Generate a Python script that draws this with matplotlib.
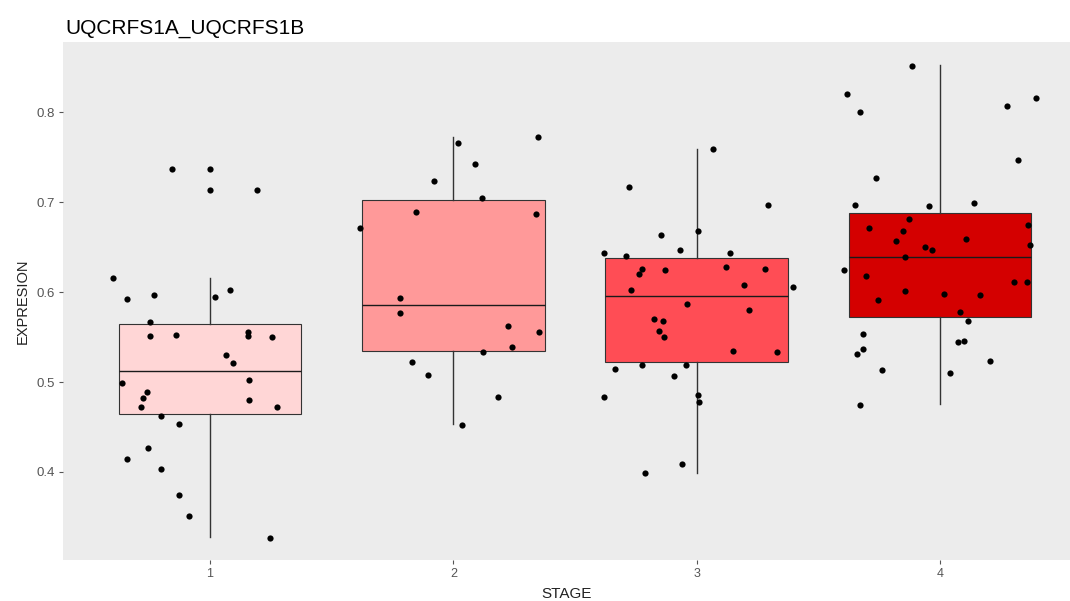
#!/usr/bin/env python3
import matplotlib
matplotlib.use("Agg")
import matplotlib.pyplot as plt

# expression per stage, jittered x positions kept as read from the run
stages = [1, 2, 3, 4]
stage_labels = ["1", "2", "3", "4"]
box_colors = ["#FFD6D6", "#FF9999", "#FF4D55", "#D40000"]

# box summary per stage
q1 = [0.4641, 0.5344, 0.5219, 0.5722]
median = [0.5119, 0.5852, 0.5952, 0.6385]
q3 = [0.5644, 0.7019, 0.6374, 0.6878]
whis_lo = [0.3281, 0.4533, 0.3993, 0.4752]
whis_hi = [0.6160, 0.7726, 0.7596, 0.8522]

stage1_x = [0.843, 1.000, 1.000, 1.192, 0.603, 0.658, 0.771, 1.021, 1.082, 0.755,
            0.755, 0.860, 1.155, 1.155, 1.254, 1.066, 1.093, 0.640, 1.160, 0.740,
            0.723, 1.160, 0.718, 1.274, 0.800, 0.874, 0.744, 0.658, 0.800, 0.874,
            0.915, 1.248]
stage1_y = [0.7367, 0.7367, 0.7140, 0.7140, 0.6160, 0.5920, 0.5970, 0.5944, 0.6026, 0.5663,
            0.5511, 0.5526, 0.5560, 0.5511, 0.5496, 0.5296, 0.5211, 0.4985, 0.5019, 0.4885,
            0.4822, 0.4800, 0.4719, 0.4719, 0.4619, 0.4533, 0.4263, 0.4141, 0.4030, 0.3748,
            0.3515, 0.3267]

stage2_x = [2.021, 2.346, 2.090, 1.921, 2.116, 1.847, 2.340, 1.618, 1.779, 1.779,
            2.226, 2.351, 2.241, 2.122, 1.831, 1.894, 2.185, 2.034]
stage2_y = [0.7659, 0.7719, 0.7419, 0.7237, 0.7044, 0.6889, 0.6867, 0.6711, 0.5930, 0.5763,
            0.5619, 0.5560, 0.5389, 0.5330, 0.5222, 0.5074, 0.4837, 0.4519]

stage3_x = [3.069, 2.721, 3.292, 2.855, 3.005, 2.933, 2.621, 2.709, 3.136, 2.777,
            2.763, 2.870, 3.119, 3.282, 3.193, 3.396, 2.732, 2.960, 3.215, 2.823,
            2.862, 2.845, 2.867, 3.148, 3.330, 2.663, 2.777, 2.955, 2.908, 2.621,
            3.005, 3.011, 2.940, 2.789]
stage3_y = [0.7596, 0.7167, 0.6974, 0.6637, 0.6674, 0.6470, 0.6433, 0.6407, 0.6433, 0.6259,
            0.6196, 0.6244, 0.6278, 0.6259, 0.6074, 0.6052, 0.6022, 0.5870, 0.5796, 0.5700,
            0.5678, 0.5570, 0.5496, 0.5344, 0.5330, 0.5148, 0.5186, 0.5186, 0.5063, 0.4837,
            0.4852, 0.4774, 0.4085, 0.3985]

stage4_x = [3.886, 3.617, 3.671, 4.275, 4.395, 4.322, 3.737, 3.652, 3.954, 4.140,
            3.871, 3.709, 3.848, 4.362, 3.819, 4.107, 3.938, 3.968, 4.369, 3.857,
            3.604, 3.695, 4.303, 4.359, 3.856, 4.018, 4.166, 3.745, 4.083, 4.115,
            3.682, 4.073, 4.099, 3.684, 3.658, 4.207, 3.760, 4.042, 3.672]
stage4_y = [0.8511, 0.8208, 0.8004, 0.8067, 0.8163, 0.7467, 0.7274, 0.6963, 0.6952, 0.6996,
            0.6808, 0.6711, 0.6681, 0.6748, 0.6563, 0.6589, 0.6496, 0.6470, 0.6519, 0.6385,
            0.6241, 0.6181, 0.6111, 0.6111, 0.6015, 0.5974, 0.5967, 0.5907, 0.5774, 0.5678,
            0.5533, 0.5448, 0.5459, 0.5367, 0.5315, 0.5230, 0.5137, 0.5104, 0.4741]


def main():
    plt.rcParams["font.family"] = ["Liberation Sans", "DejaVu Sans"]
    fig = plt.figure(figsize=(10.7, 6.01), dpi=100)
    ax = fig.add_axes([0.0589, 0.068, 0.9411, 0.862])
    ax.set_facecolor("#ECECEC")

    stats = []
    for i in range(len(stages)):
        stats.append({"med": median[i], "q1": q1[i], "q3": q3[i],
                      "whislo": whis_lo[i], "whishi": whis_hi[i], "fliers": []})
    bp = ax.bxp(stats, positions=stages, widths=0.75, showcaps=False,
                showfliers=False, patch_artist=True,
                boxprops=dict(edgecolor="#333333", linewidth=0.8),
                medianprops=dict(color="#1a1a1a", linewidth=1.0),
                whiskerprops=dict(color="#333333", linewidth=1.0))
    for patch, c in zip(bp["boxes"], box_colors):
        patch.set_facecolor(c)

    xs = stage1_x + stage2_x + stage3_x + stage4_x
    ys = stage1_y + stage2_y + stage3_y + stage4_y
    ax.scatter(xs, ys, s=20, color="black", zorder=5, linewidths=0)

    ax.set_xlim(0.396, 4.534)
    ax.set_ylim(0.302, 0.878)
    ax.set_xticks(stages)
    ax.set_xticklabels(stage_labels)
    ax.set_yticks([0.4, 0.5, 0.6, 0.7, 0.8])
    ax.set_yticklabels(["0.4", "0.5", "0.6", "0.7", "0.8"])
    ax.tick_params(colors="#555555", labelsize=9.5, length=3, width=0.8, pad=3)
    ax.tick_params(axis="x", labelsize=9)
    for s in ax.spines.values():
        s.set_visible(False)

    ax.set_xlabel("STAGE", fontsize=11, labelpad=5, color="#222222")
    ax.set_ylabel("EXPRESION", fontsize=10.5, labelpad=5, color="#222222")
    fig.text(0.0607, 0.952, "UQCRFS1A_UQCRFS1B", fontsize=15, ha="left", va="center")

    fig.savefig("out.png", dpi=100)


if __name__ == "__main__":
    main()
